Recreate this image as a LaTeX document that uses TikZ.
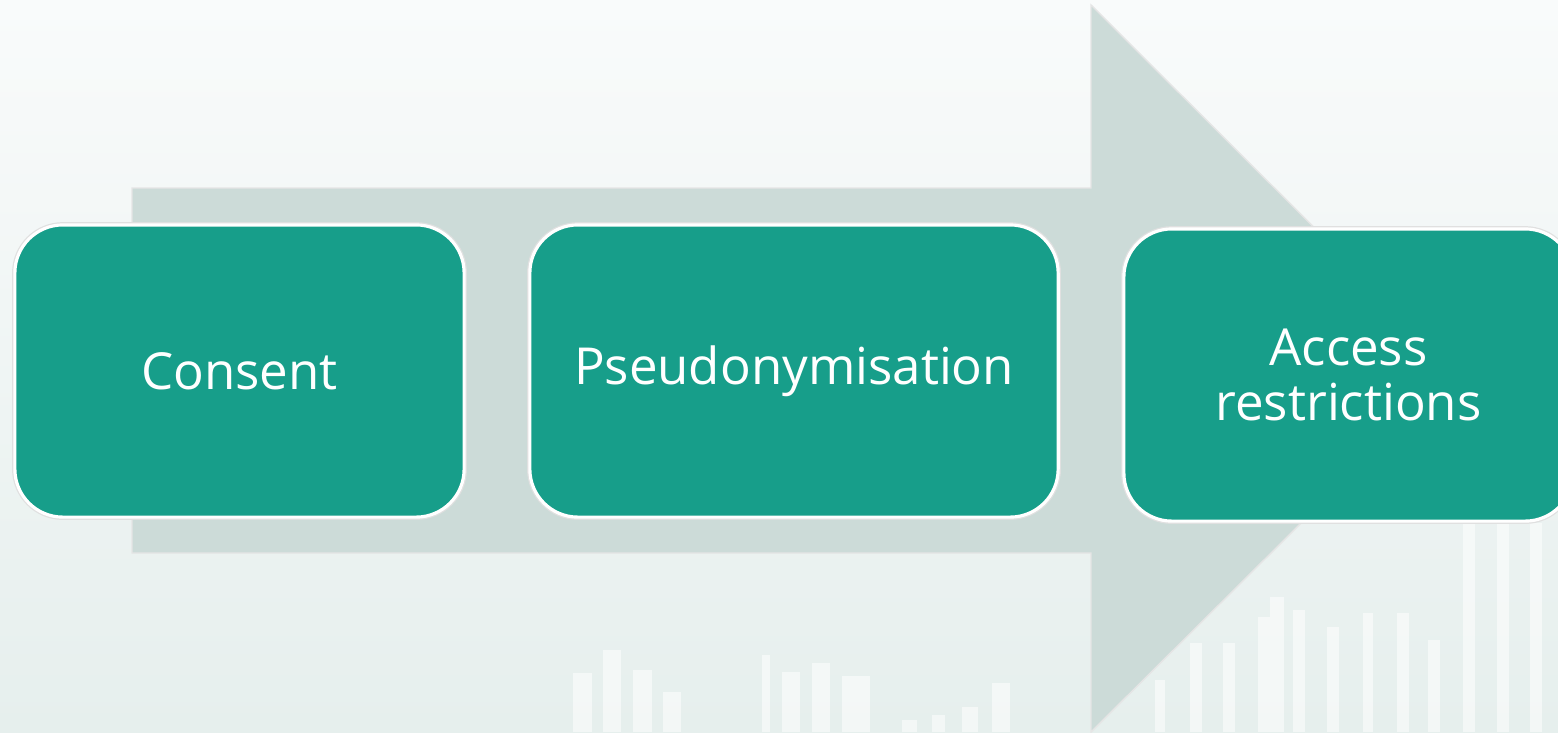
\documentclass[tikz,border=0pt]{standalone}
\usepackage{fontspec}
\setmainfont{Open Sans}
\usepackage{tikz}
\definecolor{stepteal}{HTML}{179E8A}
\definecolor{arrowgrey}{HTML}{CCDBD8}
\definecolor{bgtop}{HTML}{F9FBFB}
\definecolor{bgbottom}{HTML}{E6EFED}
\tikzset{
	step node/.style={rectangle,rounded corners=0.48cm,fill=stepteal,draw=white,line width=0.9pt,
		preaction={draw=black!12,line width=1.6pt},text=white,align=center,
		font=\fontsize{14.5}{15.6}\selectfont,minimum height=2.92cm,inner sep=0pt},
	big arrow/.style={fill=arrowgrey,draw=black!10,line width=0.4pt},
	skyline bar/.style={fill=white,opacity=0.55}
}

\begin{document}
\begin{tikzpicture}[x=0.01cm,y=-0.01cm]
	\useasboundingbox (0,0) rectangle (1558,732);
	\shade[top color=bgtop,bottom color=bgbottom] (0,0) rectangle (1558,732);
	% faint skyline in the background
	\foreach \x/\w/\t in {573/19/673,603/18/650,633/19/670,663/18/692,762/8/655,782/18/672,
		812/18/663,842/28/676,902/15/720,932/13/715,962/16/707,992/18/683,1155/10/680,
		1190/12/643,1223/12/643,1258/12/617,1270/14/597,1293/12/610,1327/12/627,1363/10/613,
		1397/12/613,1428/12/640,1463/12/523,1497/12/523,1530/12/523}
		\fill[skyline bar] (\x,\t) rectangle (\x+\w,732);
	% the arrow
	\filldraw[big arrow] (132,188) -- (1091,188) -- (1091,5) -- (1456,369) -- (1091,732)
		-- (1091,553) -- (132,553) -- cycle;
	\node[step node,minimum width=4.49cm] (consent) at (239.5,371) {Consent};
	\node[step node,minimum width=5.28cm] (pseudo) at (794,371) {Pseudonymisation};
	\node[step node,minimum width=4.49cm] (access) at (1348.5,375) {Access\\restrictions};
\end{tikzpicture}
\end{document}
